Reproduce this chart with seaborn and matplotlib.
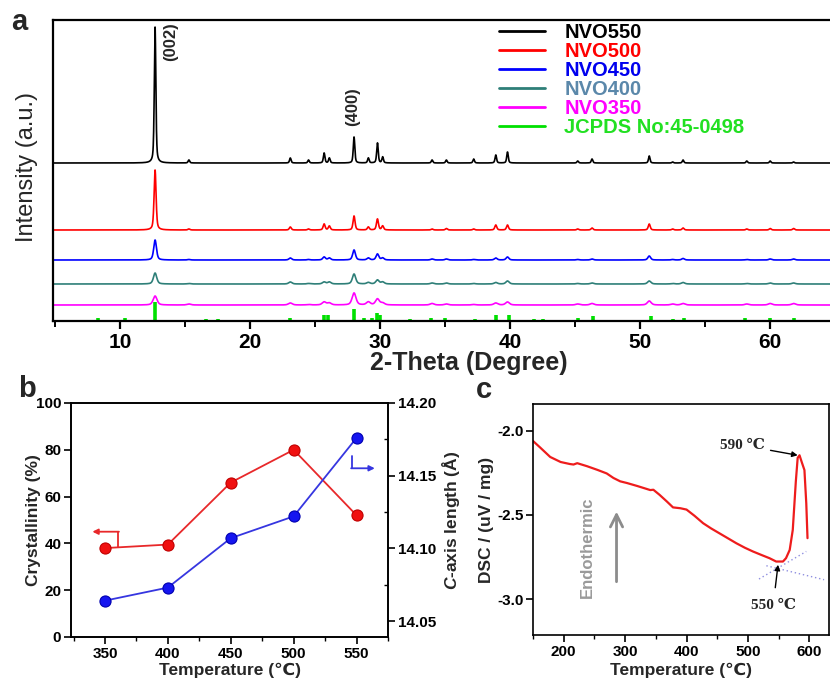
import numpy as np
import pandas as pd
import matplotlib
matplotlib.use("Agg")
import matplotlib.pyplot as plt
import seaborn as sns
from matplotlib.lines import Line2D
from matplotlib.ticker import MultipleLocator, FormatStrFormatter

# ---------------- data ----------------
# XRD reflections (2-theta, degree) and their heights for each annealing temperature
peak_pos = [12.7, 15.3, 23.1, 24.5, 25.7, 26.1, 28.0, 29.1, 29.8, 30.2, 34.0, 35.1,
            37.2, 38.9, 39.8, 45.2, 46.3, 50.7, 52.5, 53.3, 58.2, 60.0, 61.8]
nvo550 = [136, 3, 5, 3, 10, 5, 26, 5, 20, 6, 3, 3, 4, 8, 11, 2, 4, 7, 1, 3, 2, 2, 1]
nvo500 = [60, 1, 3, 1, 6, 4, 14, 3, 11, 4, 1, 1.5, 1, 5, 5, 1, 2, 6, 1, 2, 1, 1.5, 1.5]
nvo450 = [20, 0.5, 2, 0.5, 3, 2, 10, 2, 6, 2, 1, 1, 0.5, 2, 3, 0.5, 1, 4, 0.5, 1.5, 0.5, 1, 1]
nvo400 = [11, 0.5, 2, 0.5, 2, 2, 10, 1.5, 4, 2, 1, 1, 0.5, 1.5, 3, 0.5, 1, 3, 0.5, 1.5, 0.5, 1, 1]
nvo350 = [9, 1, 2, 0.5, 3, 2, 12, 3, 6, 2, 1.5, 1, 0.5, 2, 3, 1, 1.5, 4, 1, 1.5, 1, 1.5, 1.5]
sample_names = ["NVO550", "NVO500", "NVO450", "NVO400", "NVO350"]
sample_offsets = [158, 91, 61, 37, 16]
sample_fwhm = [0.14, 0.18, 0.25, 0.30, 0.35]

# JCPDS No:45-0498 reference lines
ref_pos = [8.3, 10.4, 12.7, 16.6, 17.5, 23.1, 25.7, 26.0, 28.0, 28.8, 29.4, 29.8, 30.0,
           32.3, 33.9, 35.0, 37.3, 38.9, 39.9, 41.8, 42.5, 45.2, 46.4, 50.8, 52.5,
           53.4, 58.1, 60.0, 61.8]
ref_int = [3, 3, 19, 2, 2, 3, 6, 6, 12, 3, 3, 8, 6, 2, 3, 3, 2, 6, 6, 2, 2, 3, 5, 5,
           2, 3, 3, 3, 3]

# crystallinity and c-axis length vs annealing temperature
temps = [350, 400, 450, 500, 550]
crystallinity = [38, 39.5, 66, 80, 52]
c_axis = [14.064, 14.073, 14.107, 14.122, 14.176]

# DSC curve
dsc_t = [150, 162, 178, 195, 210, 216, 222, 238, 255, 270, 281, 292, 303, 320, 341,
         346, 356, 368, 378, 390, 400, 413, 427, 440, 454, 468, 481, 495, 508, 522,
         535, 546, 557, 562, 568, 573, 578, 581, 584, 588, 592, 595, 597]
dsc_v = [-2.06, -2.10, -2.155, -2.185, -2.197, -2.200, -2.192, -2.210, -2.232, -2.253,
         -2.280, -2.300, -2.310, -2.328, -2.352, -2.350, -2.380, -2.420, -2.455, -2.460,
         -2.468, -2.505, -2.549, -2.580, -2.610, -2.640, -2.668, -2.695, -2.717, -2.738,
         -2.757, -2.777, -2.777, -2.757, -2.708, -2.589, -2.300, -2.160, -2.145, -2.190,
         -2.233, -2.431, -2.638]

# ---------------- style ----------------
sns.set_theme(style="ticks")
plt.rcParams['font.family'] = ['Liberation Sans', 'DejaVu Sans']
plt.rcParams['mathtext.fontset'] = 'custom'
plt.rcParams['mathtext.it'] = 'Liberation Sans:italic:bold'
plt.rcParams['mathtext.rm'] = 'Liberation Sans:bold'
plt.rcParams['axes.edgecolor'] = 'black'
plt.rcParams['xtick.color'] = 'black'
plt.rcParams['ytick.color'] = 'black'

line_colors = ["#000000", "#ff0000", "#0000ff", "#2e7f78", "#ff00ff"]
text_colors = ["#000000", "#ff0000", "#0000ee", "#5b88aa", "#ff00ff", "#22e022"]
ref_color = "#00e000"

W, H = 830, 682
fig = plt.figure(figsize=(W / 100, H / 100), dpi=100)


def box(l, t, r, b):
    return [l / W, 1 - b / H, (r - l) / W, (b - t) / H]


# ---------------- panel a: XRD ----------------
ax_a = fig.add_axes(box(53, 20, 830, 321))
grid = np.linspace(4.85, 64.6, 6000)
frames = []
for name, off, fw, heights in zip(sample_names, sample_offsets, sample_fwhm,
                                  [nvo550, nvo500, nvo450, nvo400, nvo350]):
    prof = np.zeros_like(grid)
    hw = fw / 2
    for p, h in zip(peak_pos, heights):
        lor = 1 / (1 + ((grid - p) / hw) ** 2)
        gau = np.exp(-np.log(2) * ((grid - p) / hw) ** 2)
        prof += h * (0.5 * lor + 0.5 * gau)
    frames.append(pd.DataFrame({"two_theta": grid, "intensity": prof + off, "sample": name}))
xrd = pd.concat(frames, ignore_index=True)
sns.lineplot(data=xrd, x="two_theta", y="intensity", hue="sample",
             hue_order=sample_names, palette=line_colors, estimator=None,
             sort=False, linewidth=1.2, legend=False, ax=ax_a)
ax_a.vlines(ref_pos, 0, ref_int, colors=ref_color, linewidth=2.6)
ax_a.set_xlim(4.85, 64.6)
ax_a.set_ylim(0, 301)
ax_a.set_yticks([])
ax_a.xaxis.set_major_locator(MultipleLocator(10))
ax_a.xaxis.set_minor_locator(MultipleLocator(5))
ax_a.tick_params(axis='x', which='major', direction='out', length=6, width=1.6,
                 labelsize=15, pad=3)
ax_a.tick_params(axis='x', which='minor', direction='out', length=4, width=1.4)
for lab in ax_a.get_xticklabels():
    lab.set_fontweight('bold')
ax_a.spines['right'].set_visible(False)
for s in ['left', 'top', 'bottom']:
    ax_a.spines[s].set_linewidth(1.6)
ax_a.set_xlabel("2-Theta (Degree)", fontsize=18, fontweight='bold')
ax_a.xaxis.set_label_coords((469 - 53) / 777, -0.10)
ax_a.set_ylabel("Intensity (a.u.)", fontsize=17)
ax_a.yaxis.set_label_coords(-0.019, 0.51)
ax_a.text(13.3, 299, "(002)", rotation=90, ha='left', va='top', fontsize=12,
          fontweight='bold')
ax_a.text(27.3, 234, "(400)", rotation=90, ha='left', va='top', fontsize=12,
          fontweight='bold')

handles = [Line2D([0], [0], color=c, lw=2) for c in line_colors] + \
          [Line2D([0], [0], color=ref_color, lw=2)]
labels = sample_names + ["JCPDS No:45-0498"]
ax_a.legend(handles, labels, loc='upper left', bbox_to_anchor=(0.561, 1.022),
            frameon=False, borderpad=0, handlelength=2.3, handletextpad=0.95,
            labelspacing=0.0, labelcolor=text_colors,
            prop={'weight': 'bold', 'size': 14.5})

# ---------------- panel b: crystallinity / c-axis ----------------
ax_b = fig.add_axes(box(71, 403, 388, 637))
sns.lineplot(x=temps, y=crystallinity, color="#e8282a", linewidth=1.3, marker='o',
             markersize=8, markerfacecolor="#f01010", markeredgecolor="#c00000",
             markeredgewidth=0.8, ax=ax_b)
ax_b.set_xlim(323, 575)
ax_b.set_ylim(0, 100)
ax_b.xaxis.set_major_locator(MultipleLocator(50))
ax_b.xaxis.set_minor_locator(MultipleLocator(25))
ax_b.yaxis.set_major_locator(MultipleLocator(20))
ax_b.tick_params(which='major', direction='out', length=5, width=1.2, labelsize=11, pad=2)
ax_b.tick_params(which='minor', direction='out', length=3, width=1.0)
for lab in ax_b.get_xticklabels() + ax_b.get_yticklabels():
    lab.set_fontweight('bold')
ax_b.set_xlabel("Temperature (℃)", fontsize=12.5, fontweight='bold')
ax_b.set_ylabel("Crystallinity (%)", fontsize=12.5, fontweight='bold')
ax_b.xaxis.set_label_coords(0.5, -0.108)
ax_b.yaxis.set_label_coords(-0.095, 0.5)

ax_b2 = ax_b.twinx()
sns.lineplot(x=temps, y=c_axis, color="#3636e0", linewidth=1.3, marker='o',
             markersize=8, markerfacecolor="#1515f0", markeredgecolor="#0000b0",
             markeredgewidth=0.8, ax=ax_b2)
ax_b2.set_ylim(14.039, 14.20)
ax_b2.yaxis.set_major_locator(MultipleLocator(0.05))
ax_b2.yaxis.set_minor_locator(MultipleLocator(0.025))
ax_b2.yaxis.set_major_formatter(FormatStrFormatter('%.2f'))
ax_b2.tick_params(which='major', direction='out', length=5, width=1.2, labelsize=11, pad=2)
ax_b2.tick_params(which='minor', direction='in', length=3, width=1.0)
for lab in ax_b2.get_yticklabels():
    lab.set_fontweight('bold')
ax_b2.set_ylabel(r"$\mathit{C}$-axis length (Å)", fontsize=12.5, fontweight='bold')
ax_b2.yaxis.set_label_coords(1.164, 0.5)
for a in (ax_b, ax_b2):
    for s in a.spines.values():
        s.set_linewidth(1.2)

# axis-indicator arrows
ax_b.plot([360.5, 360.5], [38.3, 45.0], color="#e8282a", lw=1.3)
ax_b.annotate("", xy=(340, 45.0), xytext=(361.1, 45.0),
              arrowprops=dict(arrowstyle='-|>', color="#e8282a", lw=1.3,
                              mutation_scale=8, shrinkA=0, shrinkB=0))
ax_b.plot([546.3, 546.3], [77.4, 72.1], color="#3636e0", lw=1.3)
ax_b.annotate("", xy=(564.5, 72.1), xytext=(545.7, 72.1),
              arrowprops=dict(arrowstyle='-|>', color="#3636e0", lw=1.3,
                              mutation_scale=8, shrinkA=0, shrinkB=0))

# ---------------- panel c: DSC ----------------
ax_c = fig.add_axes(box(533, 404, 829, 635))
sns.lineplot(x=dsc_t, y=dsc_v, color="#ee1c1c", linewidth=1.6, sort=False,
             estimator=None, ax=ax_c)
ax_c.set_xlim(150, 632)
ax_c.set_ylim(-3.214, -1.84)
ax_c.xaxis.set_major_locator(MultipleLocator(100))
ax_c.xaxis.set_minor_locator(MultipleLocator(50))
ax_c.yaxis.set_major_locator(MultipleLocator(0.5))
ax_c.yaxis.set_major_formatter(FormatStrFormatter('%.1f'))
ax_c.tick_params(which='major', direction='out', length=5, width=1.2, labelsize=11, pad=2)
ax_c.tick_params(which='minor', direction='out', length=3, width=1.0)
for lab in ax_c.get_xticklabels() + ax_c.get_yticklabels():
    lab.set_fontweight('bold')
for s in ax_c.spines.values():
    s.set_linewidth(1.2)
ax_c.set_xlabel("Temperature (℃)", fontsize=12.5, fontweight='bold')
ax_c.set_ylabel("DSC / (uV / mg)", fontsize=12.5, fontweight='bold')
ax_c.xaxis.set_label_coords(0.5, -0.12)
ax_c.yaxis.set_label_coords(-0.132, 0.5)

# onset tangents
ax_c.plot([518, 595], [-2.881, -2.717], color="#8f8fe0", lw=1.0, ls=(0, (1, 2)))
ax_c.plot([530, 624], [-2.802, -2.885], color="#8f8fe0", lw=1.0, ls=(0, (1, 2)))
serif = ['Liberation Serif', 'DejaVu Serif']
ax_c.annotate("590 ℃", xy=(581, -2.145), xytext=(527, -2.085), ha='right',
              va='center', fontsize=11, fontweight='bold', family=serif,
              arrowprops=dict(arrowstyle='-|>', color='black', lw=1.0,
                              mutation_scale=8, shrinkA=2, shrinkB=0))
ax_c.annotate("550 ℃", xy=(549, -2.796), xytext=(541, -3.04), ha='center',
              va='center', fontsize=11, fontweight='bold', family=serif,
              arrowprops=dict(arrowstyle='-|>', color='black', lw=1.0,
                              mutation_scale=8, shrinkA=6, shrinkB=0))
ax_c.text(238, -2.69, "Endothermic", rotation=90, ha='center', va='center',
          fontsize=12, fontweight='bold', color="#9a9a9a")
ax_c.annotate("", xy=(286, -2.48), xytext=(286, -2.897),
              arrowprops=dict(arrowstyle='->', color="#8c8c8c", lw=2,
                              mutation_scale=22, shrinkA=0, shrinkB=0))

# panel letters
fig.text(19 / W, 1 - 22 / H, "a", fontsize=21, fontweight='bold', ha='center', va='center')
fig.text(27 / W, 1 - 389 / H, "b", fontsize=21, fontweight='bold', ha='center', va='center')
fig.text(484 / W, 1 - 390 / H, "c", fontsize=21, fontweight='bold', ha='center', va='center')

fig.savefig("out.png", dpi=100)
